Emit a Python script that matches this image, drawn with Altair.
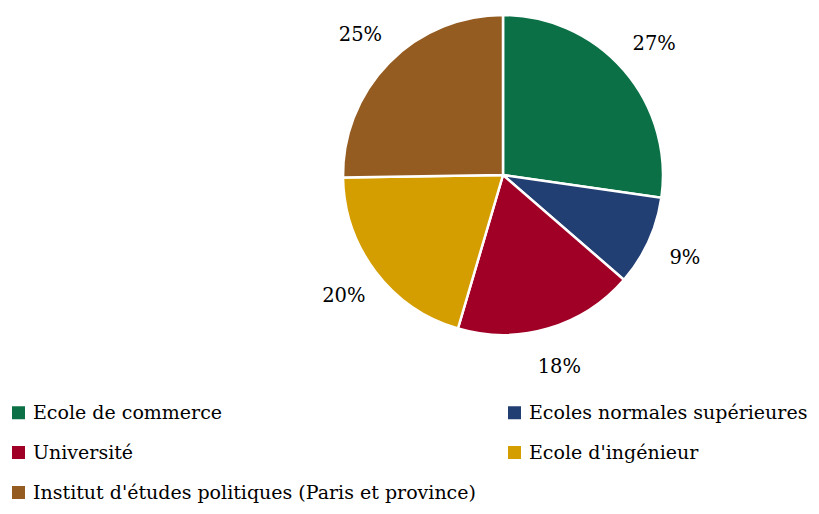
import altair as alt
import pandas as pd

categories = ["Ecole de commerce", "Ecoles normales supérieures", "Université",
              "Ecole d'ingénieur", "Institut d'études politiques (Paris et province)"]
values = [27, 9, 18, 20, 25]
colors = ["#0B7046", "#223F73", "#A00025", "#D49D00", "#955C22"]

# legend reads row by row in two columns
legend_order = [0, 2, 4, 1, 3]
legend_domain = [categories[i] for i in legend_order]
legend_range = [colors[i] for i in legend_order]

df = pd.DataFrame({"cat": categories, "val": values, "order": list(range(len(values)))})
df["label"] = df["val"].astype(str) + "%"

cx, cy = 495, 167

base = alt.Chart(df).encode(
    theta=alt.Theta("val:Q", stack=True),
    order=alt.Order("order:Q"),
)

pie = base.mark_arc(outerRadius=160, stroke="white", strokeWidth=2.5).encode(
    color=alt.Color(
        "cat:N",
        scale=alt.Scale(domain=legend_domain, range=legend_range),
        legend=alt.Legend(
            title=None,
            orient="none",
            legendX=1,
            legendY=395,
            columns=2,
            columnPadding=29,
            rowPadding=20,
            symbolType="square",
            symbolSize=169,
            symbolStrokeWidth=0,
            symbolOpacity=1,
            labelFont="DejaVu Serif",
            labelFontSize=19,
            labelColor="#000000",
            labelOffset=5,
            labelLimit=700,
            direction="vertical",
        ),
    ),
    x=alt.value(cx),
    y=alt.value(cy),
)

text = base.mark_text(radius=200, font="DejaVu Serif", fontSize=19.5, color="#000000").encode(
    text="label:N",
    x=alt.value(cx),
    y=alt.value(cy),
)

chart = (pie + text).properties(
    width=803, height=498, padding=0,
    autosize=alt.AutoSizeParams(type="none"),
).configure_view(stroke=None)

chart.save("out.html", embed_options={"renderer": "svg", "actions": False})
